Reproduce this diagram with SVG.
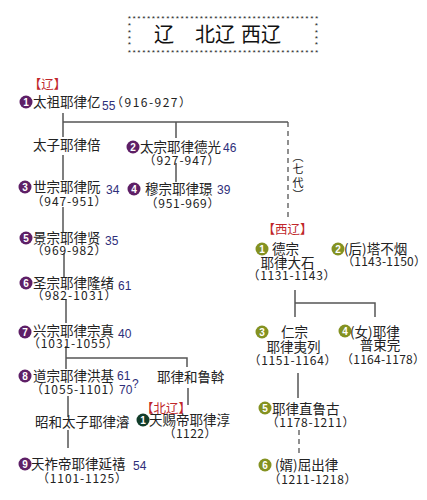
<svg xmlns="http://www.w3.org/2000/svg" width="427" height="500" viewBox="0 0 427 500">
<style>
.n{font-family:"Noto Sans CJK SC","Noto Sans",sans-serif;font-size:13.5px;fill:#222}
.d{font-family:"Noto Sans CJK SC","Noto Sans",sans-serif;font-size:12px;fill:#222;text-anchor:middle}
.b{font-family:"Liberation Sans",sans-serif;font-size:12px;fill:#2e2e7a}
.r{font-family:"Noto Sans CJK SC",sans-serif;font-size:12.5px;fill:#c0262a;text-anchor:middle}
.t{font-family:"Noto Sans CJK SC",sans-serif;font-size:20px;fill:#111}
.s{font-family:"Liberation Mono",monospace;font-size:8px;fill:#222}
.cn{font-family:"Liberation Sans",sans-serif;font-size:10px;font-weight:bold;fill:#fff;text-anchor:middle}
.p{fill:#5e1f66}.g{fill:#123d2a}.o{fill:#849221}
.l{stroke:#555;stroke-width:1.5;fill:none}
.dl{stroke:#555;stroke-width:1.3;fill:none;stroke-dasharray:5,4}
</style>
<rect width="427" height="500" fill="#fff"/>
<g id="title">
<text class="s"><tspan x="127" y="20.5" textLength="192">****************************************</tspan><tspan x="127" y="54.5" textLength="192">****************************************</tspan><tspan x="127" y="28">*</tspan><tspan x="127" y="34.5">*</tspan><tspan x="127" y="41">*</tspan><tspan x="127" y="47">*</tspan><tspan x="314" y="28">*</tspan><tspan x="314" y="34.5">*</tspan><tspan x="314" y="41">*</tspan><tspan x="314" y="47">*</tspan></text>
<text class="t" x="154" y="42">辽</text>
<text class="t" x="195" y="42">北辽</text>
<text class="t" x="241" y="42">西辽</text>
</g>
<g id="connectors">
<path class="l" d="M63 113V137M63 155V180M63 207V232M64 253V277M66 299V323M66 346V369M66 358H187V367M68 396V417M68 430V448M188 388V405"/>
<path class="l" d="M63 122H288M176 122V138M176 163V182"/>
<path class="dl" d="M288 122V218"/>
<path class="l" d="M295 290V317M295 303H375V317M298 373V398"/>
<path class="dl" d="M299 430V457"/>
</g>
<g id="liao">
<text class="r" x="47.5" y="89">【辽】</text>
<circle class="p" cx="26" cy="102" r="6.5"/><text class="cn" x="26" y="105.5">1</text>
<text class="n" x="33" y="107">太祖耶律亿</text>
<text class="b" x="102" y="110">55</text>
<text class="d" x="151" y="107" textLength="80">（916-927）</text>
</g>
<g id="bei"><text class="n" x="33" y="150">太子耶律倍</text></g>
<g id="taizong">
<circle class="p" cx="133" cy="147" r="6.5"/><text class="cn" x="133" y="150.5">2</text>
<text class="n" x="140" y="152">太宗耶律德光</text>
<text class="b" x="223" y="152">46</text>
<text class="d" x="181.5" y="165" textLength="76">（927-947）</text>
</g>
<g id="shizong">
<circle class="p" cx="25" cy="187" r="6.5"/><text class="cn" x="25" y="190.5">3</text>
<text class="n" x="33" y="192">世宗耶律阮</text>
<text class="b" x="106" y="194">34</text>
<text class="d" x="69" y="206" textLength="75">（947-951）</text>
</g>
<g id="muzong">
<circle class="p" cx="134" cy="189" r="6.5"/><text class="cn" x="134" y="192.5">4</text>
<text class="n" x="145" y="194">穆宗耶律璟</text>
<text class="b" x="217" y="194">39</text>
<text class="d" x="182.5" y="208" textLength="74">（951-969）</text>
</g>
<g id="jingzong">
<circle class="p" cx="26" cy="238" r="6.5"/><text class="cn" x="26" y="241.5">5</text>
<text class="n" x="33" y="243">景宗耶律贤</text>
<text class="b" x="105" y="245">35</text>
<text class="d" x="69" y="255" textLength="75">（969-982）</text>
</g>
<g id="shengzong">
<circle class="p" cx="26" cy="283" r="6.5"/><text class="cn" x="26" y="286.5">6</text>
<text class="n" x="33" y="288">圣宗耶律隆绪</text>
<text class="b" x="118" y="290">61</text>
<text class="d" x="74" y="300" textLength="85">（982-1031）</text>
</g>
<g id="xingzong">
<circle class="p" cx="25" cy="332" r="6.5"/><text class="cn" x="25" y="335.5">7</text>
<text class="n" x="33" y="336">兴宗耶律宗真</text>
<text class="b" x="118" y="338">40</text>
<text class="d" x="73" y="348" textLength="90">（1031-1055）</text>
</g>
<g id="daozong">
<circle class="p" cx="25" cy="376" r="6.5"/><text class="cn" x="25" y="379.5">8</text>
<text class="n" x="33" y="381">道宗耶律洪基</text>
<text class="b" x="117" y="380">61</text>
<text class="d" x="76" y="394" textLength="90">（1055-1101）</text>
<text class="b" x="119" y="394">70</text>
<text class="b" x="132" y="388">?</text>
</g>
<g id="helu"><text class="n" x="157" y="382">耶律和鲁斡</text></g>
<g id="jun"><text class="n" x="35" y="427">昭和太子耶律濬</text></g>
<g id="beiliao">
<text class="r" x="166" y="413">【北辽】</text>
<circle class="g" cx="143" cy="420" r="6.5"/><text class="cn" x="143" y="423.5">1</text>
<text class="n" x="149" y="425">天赐帝耶律淳</text>
<text class="d" x="190" y="438" textLength="53">（1122）</text>
</g>
<g id="tianzuo">
<circle class="p" cx="25" cy="464" r="6.5"/><text class="cn" x="25" y="467.5">9</text>
<text class="n" x="31" y="469">天祚帝耶律延禧</text>
<text class="b" x="133" y="470">54</text>
<text class="d" x="82" y="483" textLength="90">（1101-1125）</text>
</g>
<g id="qidai" font-family="Noto Sans CJK SC,sans-serif" font-size="11" fill="#222" text-anchor="middle">
<text x="298" y="161">︵</text>
<text x="298" y="173">七</text>
<text x="298" y="187">代</text>
<text x="298" y="199">︶</text>
</g>
<g id="dezong">
<text class="r" x="287.5" y="234">【西辽】</text>
<circle class="o" cx="262" cy="249" r="6.5"/><text class="cn" x="262" y="252.5">1</text>
<text class="n" x="272" y="254">德宗</text>
<text class="n" x="287.5" y="268" text-anchor="middle">耶律大石</text>
<text class="d" x="291.5" y="280" textLength="88">（1131-1143）</text>
</g>
<g id="tabuyan">
<circle class="o" cx="338" cy="249" r="6.5"/><text class="cn" x="338" y="252.5">2</text>
<text class="n" x="344" y="254">(后)塔不烟</text>
<text class="d" x="384" y="266" textLength="84">（1143-1150）</text>
</g>
<g id="renzong">
<circle class="o" cx="262" cy="332" r="6.5"/><text class="cn" x="262" y="335.5">3</text>
<text class="n" x="281" y="337">仁宗</text>
<text class="n" x="293.5" y="352" text-anchor="middle">耶律夷列</text>
<text class="d" x="292.5" y="365" textLength="88">（1151-1164）</text>
</g>
<g id="pusuwan">
<circle class="o" cx="345" cy="331" r="6.5"/><text class="cn" x="345" y="334.5">4</text>
<text class="n" x="350" y="337">(女)耶律</text>
<text class="n" x="380" y="350" text-anchor="middle">普束完</text>
<text class="d" x="383" y="364" textLength="84">（1164-1178）</text>
</g>
<g id="zhilugu">
<circle class="o" cx="265" cy="408" r="6.5"/><text class="cn" x="265" y="411.5">5</text>
<text class="n" x="272" y="414">耶律直鲁古</text>
<text class="d" x="310.5" y="427" textLength="88">（1178-1211）</text>
</g>
<g id="quchulv">
<circle class="o" cx="265" cy="465" r="6.5"/><text class="cn" x="265" y="468.5">6</text>
<text class="n" x="275" y="470">(婿)屈出律</text>
<text class="d" x="312.5" y="484" textLength="88">（1211-1218）</text>
</g>
</svg>
